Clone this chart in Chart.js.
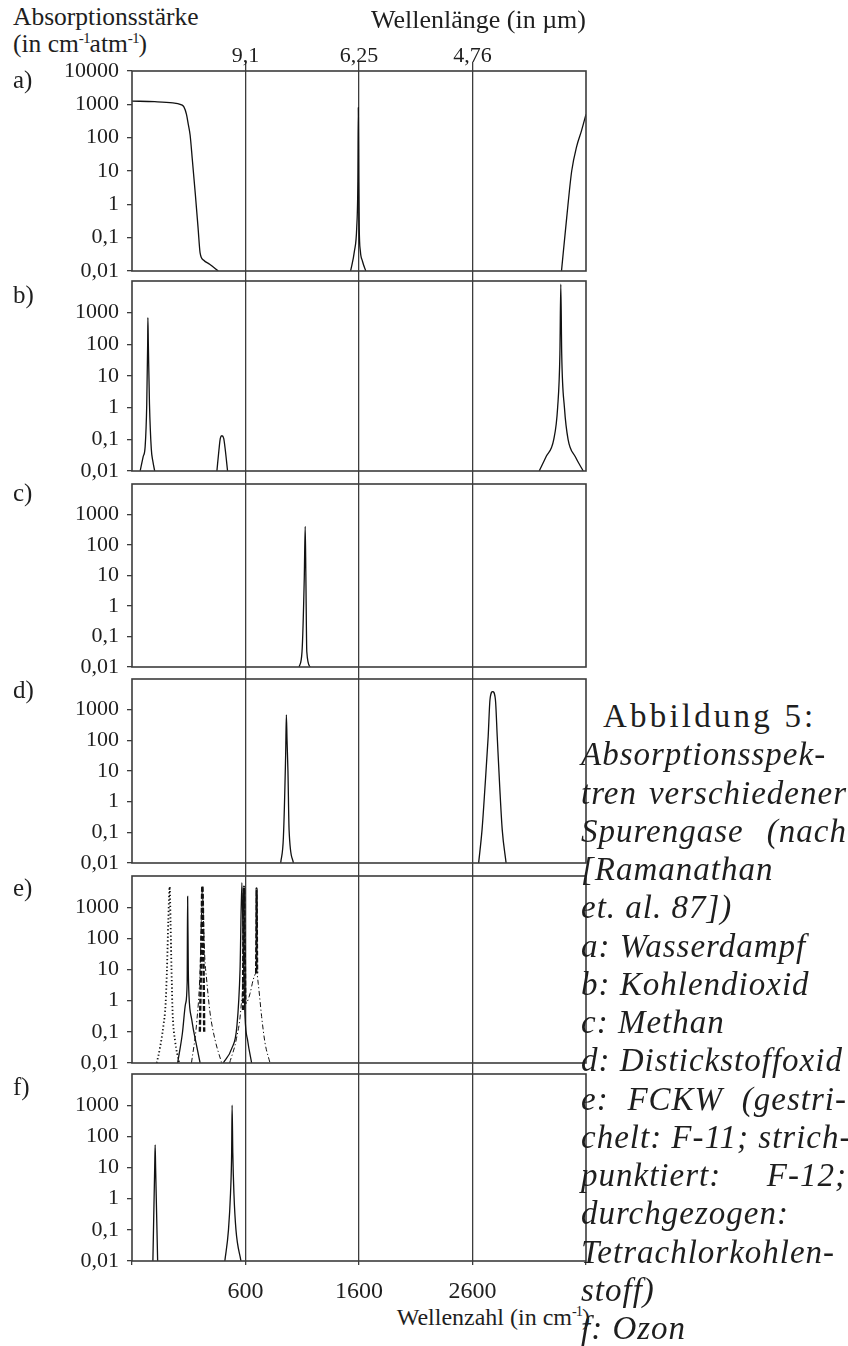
<!DOCTYPE html>
<html lang="de">
<head>
<meta charset="utf-8">
<title>Absorptionsspektren verschiedener Spurengase</title>
<script src="https://cdn.jsdelivr.net/npm/chart.js@4.4.1/dist/chart.umd.min.js"></script>
<style>
  html, body { margin: 0; padding: 0; background: #fff; }
  #page {
    position: relative; width: 848px; height: 1346px; overflow: hidden;
    background: #fff; color: #1e1e1e;
    font-family: "Liberation Serif", "Times New Roman", serif;
  }
  #page canvas { position: absolute; left: 0; }
  .txt { position: absolute; white-space: nowrap; }
  .sup { font-size: 0.6em; position: relative; top: -0.62em; letter-spacing: -1px; }
  .cap {
    position: absolute; left: 581px; width: 266px; height: 38px; line-height: 38px;
    font-size: 33px; font-style: italic; letter-spacing: 1px; white-space: nowrap;
  }
  .cap.just { text-align: justify; text-align-last: justify; }
  .cap.upright { font-style: normal; letter-spacing: 3.2px; left: 603px; }
</style>
</head>
<body>
<div id="page">
  <div class="txt" style="left:13px; top:2px; font-size:25.5px; line-height:30px;">Absorptionsstärke</div>
  <div class="txt" style="left:13px; top:29px; font-size:25.5px; line-height:30px;">(in cm<span class="sup">-1</span>atm<span class="sup">-1</span>)</div>
  <div class="txt" style="right:258px; top:1302px; font-size:24px; line-height:30px;">Wellenzahl (in cm<span class="sup">-1</span>)</div>
</div>
<script>
// ---- axis ranges and tick labels ----
const xRange = [600, 2600];                       // Wellenzahl in cm^-1
const yRange = [0.01, 10000];                     // cm^-1 atm^-1
const gridWavenumbers = [1100, 1600, 2100];
const wavelengthLabels = ['9,1', '6,25', '4,76'];
const wavenumberLabels = ['600', '1600', '2600'];
const decadeValues = [0.01, 0.1, 1, 10, 100, 1000, 10000];
const decadeLabels = ['0,01', '0,1', '1', '10', '100', '1000', '10000'];
const panelLetters = ['a)', 'b)', 'c)', 'd)', 'e)', 'f)'];

// ---- a) Wasserdampf ----
const waterRotX = [600, 700, 780, 812, 828, 840, 848, 856, 866, 879, 891, 900, 916, 942, 980];
const waterRotY = [1250, 1200, 1100, 1000, 850, 500, 250, 120, 21, 2, 0.2, 0.035, 0.021, 0.016, 0.01];
const waterBendX = [1563, 1580, 1590, 1595, 1597, 1599, 1601, 1606, 1615, 1630];
const waterBendY = [0.01, 0.04, 0.2, 5, 800, 5, 0.2, 0.04, 0.02, 0.01];
const waterStretchX = [2492, 2515, 2537, 2559, 2580, 2600];
const waterStretchY = [0.01, 0.4, 10, 55, 160, 500];

// ---- b) Kohlendioxid ----
const co2BendX = [636, 649, 658, 665, 669, 670, 672, 677, 685, 692, 700];
const co2BendY = [0.01, 0.028, 0.06, 1.3, 100, 700, 100, 1.3, 0.05, 0.02, 0.01];
const co2WeakX = [974, 983, 989, 996, 1004, 1011, 1021];
const co2WeakY = [0.01, 0.046, 0.107, 0.13, 0.107, 0.046, 0.01];
const co2StretchX = [2394, 2424, 2458, 2475, 2485, 2489, 2493, 2505, 2521, 2553, 2588];
const co2StretchY = [0.01, 0.028, 0.1, 1, 50, 7900, 50, 1, 0.1, 0.028, 0.01];

// ---- c) Methan ----
const ch4X = [1336, 1349, 1359, 1363, 1366, 1370, 1385];
const ch4Y = [0.01, 0.032, 9, 410, 9, 0.032, 0.01];

// ---- d) Distickstoffoxid ----
const n2oLowX = [1255, 1267, 1277, 1280, 1283, 1287, 1292, 1311];
const n2oLowY = [0.01, 0.07, 38, 680, 100, 10, 0.12, 0.01];
const n2oHighX = [2127, 2142, 2155, 2169, 2177, 2189, 2201, 2209, 2220, 2231, 2248];
const n2oHighY = [0.01, 0.12, 3, 130, 2100, 3900, 2100, 130, 3, 0.12, 0.01];

// ---- e) FCKW ----
const eDottedX = [709, 723, 738, 748, 754, 760, 766, 770, 774, 779, 790, 808];
const eDottedY = [0.01, 0.03, 0.15, 0.8, 10, 400, 4500, 300, 10, 0.4, 0.05, 0.01];
const eSolidLowX = [801, 822, 836, 843, 845, 848, 851, 863, 885, 900];
const eSolidLowY = [0.01, 0.09, 0.8, 4, 2200, 10, 1.5, 0.25, 0.035, 0.01];
const eSolidHighX = [1002, 1040, 1062, 1076, 1084, 1090, 1098, 1110, 1127];
const eSolidHighY = [0.01, 0.03, 0.15, 10, 6100, 50, 0.3, 0.05, 0.01];
const eDashDotLowX = [862, 885, 900, 907, 910, 913, 920, 929, 944, 966, 995];
const eDashDotLowY = [0.01, 0.2, 10, 1000, 4800, 1000, 30, 4.6, 0.4, 0.055, 0.01];
const eDashDotHighX = [1030, 1060, 1080, 1089, 1093, 1096, 1098, 1105, 1120, 1134, 1145, 1149, 1156, 1171, 1186, 1208];
const eDashDotHighY = [0.01, 0.06, 0.6, 10, 4500, 10, 0.8, 0.85, 1.7, 4.7, 7.6, 8, 3.6, 0.31, 0.044, 0.01];
const eBoldAX = [899, 906, 910, 914, 918];
const eBoldAY = [0.1, 100, 4800, 100, 0.1];
const eBoldBX = [1089, 1091, 1093, 1096, 1099];
const eBoldBY = [0.5, 100, 4500, 100, 0.8];
const eBoldCX = [1147, 1148, 1149, 1150, 1151];
const eBoldCY = [7.6, 100, 4000, 100, 7.6];

// ---- f) Ozon ----
const o3LowX = [692, 700, 702, 704, 713];
const o3LowY = [0.01, 10, 53, 10, 0.01];
const o3HighX = [1009, 1025, 1034, 1039, 1041, 1044, 1049, 1058, 1080];
const o3HighY = [0.01, 0.1, 1.5, 30, 1000, 30, 1.5, 0.1, 0.01];

// ---- caption ----
const captionLines = [
  ['Abbildung 5:', 'upright'],
  ['Absorptionsspek-', 'just'],
  ['tren verschiedener', 'just'],
  ['Spurengase (nach', 'just'],
  ['[Ramanathan', ''],
  ['et. al. 87])', ''],
  ['a: Wasserdampf', ''],
  ['b: Kohlendioxid', ''],
  ['c: Methan', ''],
  ['d: Distickstoffoxid', ''],
  ['e: FCKW (gestri-', 'just'],
  ['chelt: F-11; strich-', 'just'],
  ['punktiert: F-12;', 'just'],
  ['durchgezogen:', ''],
  ['Tetrachlorkohlen-', ''],
  ['stoff)', ''],
  ['f: Ozon', '']
];

// ---- drawing ----
const FONT = '"Liberation Serif", "Times New Roman", serif';
const INK = '#1e1e1e';
const RULE = '#3c3c3c';
const page = document.getElementById('page');

const lineStyles = {
  solid:   { borderWidth: 1.3, borderDash: [] },
  dotted:  { borderWidth: 1.8, borderDash: [1.3, 2.4] },
  dashdot: { borderWidth: 1.0, borderDash: [5, 2.5, 1.2, 2.5] },
  bold:    { borderWidth: 2.4, borderDash: [5, 2] }
};

const curve = (xs, ys, style = 'solid') => ({ xs, ys, style });

const panels = [
  { curves: [curve(waterRotX, waterRotY), curve(waterBendX, waterBendY), curve(waterStretchX, waterStretchY)], ticks: decadeValues.length },
  { curves: [curve(co2BendX, co2BendY), curve(co2WeakX, co2WeakY), curve(co2StretchX, co2StretchY)], ticks: decadeValues.length - 1 },
  { curves: [curve(ch4X, ch4Y)], ticks: decadeValues.length - 1 },
  { curves: [curve(n2oLowX, n2oLowY), curve(n2oHighX, n2oHighY)], ticks: decadeValues.length - 1 },
  { curves: [
      curve(eDottedX, eDottedY, 'dotted'),
      curve(eSolidLowX, eSolidLowY), curve(eSolidHighX, eSolidHighY),
      curve(eDashDotLowX, eDashDotLowY, 'dashdot'), curve(eDashDotHighX, eDashDotHighY, 'dashdot'),
      curve(eBoldAX, eBoldAY, 'bold'), curve(eBoldBX, eBoldBY, 'bold'), curve(eBoldCX, eBoldCY, 'bold')
    ], ticks: decadeValues.length - 1 },
  { curves: [curve(o3LowX, o3LowY), curve(o3HighX, o3HighY)], ticks: decadeValues.length - 1 }
];

// plot boxes (page pixels)
const plotLeft = 132, plotRight = 586, canvasWidth = 600;
const plotBoxes = [
  { top: 71, bottom: 271 },
  { top: 281, bottom: 471 },
  { top: 484, bottom: 667 },
  { top: 679, bottom: 863 },
  { top: 876, bottom: 1063 },
  { top: 1074, bottom: 1261 }
];
const labelCentres = [80, 295, 493, 690, 888, 1087];

const framePlugin = {
  id: 'frame',
  afterDatasetsDraw(chart) {
    const { ctx, chartArea: a } = chart;
    ctx.save();
    ctx.strokeStyle = RULE;
    ctx.lineWidth = 1.6;
    ctx.strokeRect(a.left, a.top, a.right - a.left, a.bottom - a.top);
    ctx.restore();
  }
};

const sameLog = (a, b) => Math.abs(Math.log10(a) - Math.log10(b)) < 1e-6;

panels.forEach((p, i) => {
  const box = plotBoxes[i];
  const isFirst = i === 0, isLast = i === panels.length - 1;
  const canvasTop = isFirst ? 0 : plotBoxes[i - 1].bottom;
  const canvasBottom = isLast ? 1346 : box.bottom + 16;
  const topAxisHeight = box.top - canvasTop;

  const cv = document.createElement('canvas');
  cv.width = canvasWidth;
  cv.height = canvasBottom - canvasTop;
  cv.style.top = canvasTop + 'px';
  page.appendChild(cv);

  const lbl = document.createElement('div');
  lbl.className = 'txt';
  lbl.style.cssText = `left:13px; top:${labelCentres[i] - 15}px; font-size:25px; line-height:30px;`;
  lbl.textContent = panelLetters[i];
  page.appendChild(lbl);

  const tickVals = decadeValues.slice(0, p.ticks);

  const scales = {
    x: {
      type: 'linear', position: 'top', min: xRange[0], max: xRange[1],
      afterBuildTicks: s => { s.ticks = gridWavenumbers.map(v => ({ value: v })); },
      afterFit: s => { s.height = topAxisHeight; s.paddingLeft = 0; s.paddingRight = 0; },
      grid: { color: RULE, lineWidth: 1.3, drawTicks: true, tickLength: isFirst ? 9 : topAxisHeight, drawOnChartArea: true },
      border: { display: false },
      ticks: {
        display: isFirst, autoSkip: false, maxRotation: 0, padding: -5,
        font: { family: FONT, size: 22, lineHeight: 1 }, color: INK,
        callback: v => wavelengthLabels[gridWavenumbers.indexOf(v)] ?? ''
      },
      title: {
        display: isFirst, text: 'Wellenlänge (in µm)', align: 'end',
        font: { family: FONT, size: 26 }, color: INK, padding: { top: 6, bottom: 0 }
      }
    },
    y: {
      type: 'logarithmic', position: 'left', min: yRange[0], max: yRange[1],
      afterBuildTicks: s => { s.ticks = tickVals.map(v => ({ value: v })); },
      afterFit: s => { s.width = plotLeft; s.paddingTop = 0; s.paddingBottom = 0; },
      grid: { drawOnChartArea: false, drawTicks: true, tickLength: 5, color: RULE, lineWidth: 1.3 },
      border: { display: false },
      ticks: {
        autoSkip: false, padding: 8, font: { family: FONT, size: 22 }, color: INK,
        callback: v => {
          const k = decadeValues.findIndex(d => sameLog(d, v));
          return k < 0 ? '' : decadeLabels[k];
        }
      }
    }
  };

  if (isLast) {
    scales.xb = {
      type: 'linear', position: 'bottom', min: xRange[0], max: xRange[1],
      afterBuildTicks: s => { s.ticks = [xRange[0], ...gridWavenumbers, xRange[1]].map(v => ({ value: v })); },
      afterFit: s => { s.height = canvasBottom - box.bottom; s.paddingLeft = 0; s.paddingRight = 0; },
      grid: { drawOnChartArea: false, drawTicks: true, tickLength: 4, color: RULE, lineWidth: 1.3 },
      border: { display: false },
      ticks: {
        autoSkip: false, maxRotation: 0, padding: 12, font: { family: FONT, size: 24 }, color: INK,
        callback: v => {
          const k = gridWavenumbers.indexOf(v);
          return k < 0 ? '' : wavenumberLabels[k];
        }
      }
    };
  }

  const datasets = p.curves.map(c => ({
    data: c.xs.map((x, k) => ({ x, y: c.ys[k] })),
    borderColor: '#111',
    borderWidth: lineStyles[c.style].borderWidth,
    borderDash: lineStyles[c.style].borderDash,
    pointRadius: 0,
    fill: false,
    cubicInterpolationMode: 'monotone',
    xAxisID: 'x', yAxisID: 'y'
  }));

  new Chart(cv, {
    type: 'line',
    data: { datasets },
    options: {
      responsive: false, animation: false, devicePixelRatio: 1,
      layout: { padding: { left: 0, top: 0, right: canvasWidth - plotRight, bottom: isLast ? 0 : canvasBottom - box.bottom } },
      plugins: { legend: { display: false }, tooltip: { enabled: false } },
      scales
    },
    plugins: [framePlugin]
  });
});

// caption text block on the right
captionLines.forEach(([text, kind], i) => {
  const d = document.createElement('div');
  d.className = 'cap' + (kind ? ' ' + kind : '');
  d.style.top = (716 + 38.25 * i - 19) + 'px';
  d.textContent = text;
  page.appendChild(d);
});
</script>
</body>
</html>
